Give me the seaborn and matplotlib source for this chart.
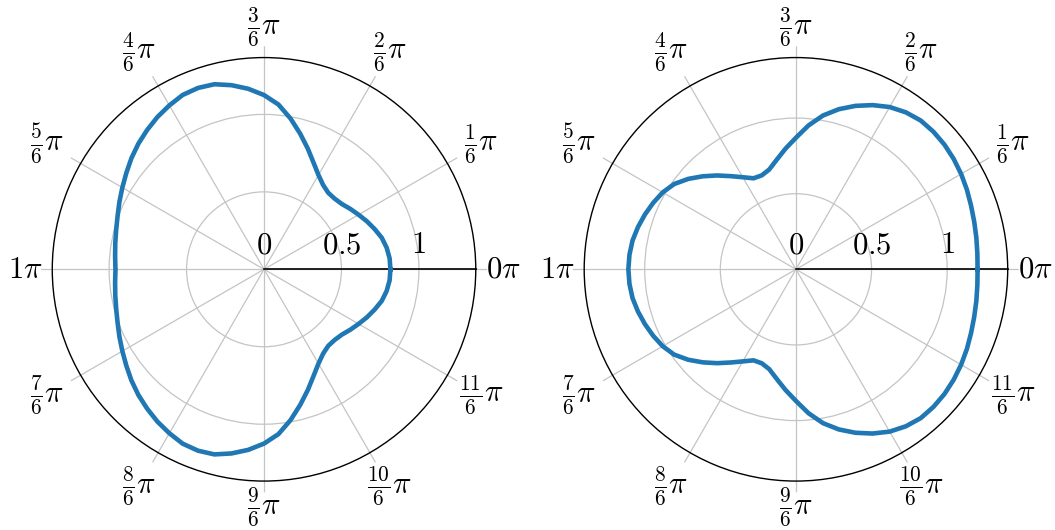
import numpy as np
import matplotlib
matplotlib.use("Agg")
import matplotlib.pyplot as plt
import matplotlib.transforms as mtransforms
import seaborn as sns

# angles in degrees, one reading every 5 degrees
angle_deg = list(range(0, 360, 5))

# radius
r_left = [0.816, 0.814, 0.804, 0.787, 0.760, 0.733, 0.705, 0.680, 0.656,
          0.645, 0.645, 0.665, 0.703, 0.758, 0.828, 0.905, 0.988, 1.068,
          1.125, 1.170, 1.207, 1.237, 1.246, 1.242, 1.222, 1.200, 1.174,
          1.147, 1.117, 1.085, 1.056, 1.030, 1.006, 0.988, 0.975, 0.965,
          0.959,
          0.965, 0.975, 0.988, 1.006, 1.030, 1.056, 1.085, 1.117, 1.147,
          1.174, 1.200, 1.222, 1.242, 1.246, 1.237, 1.207, 1.170, 1.125,
          1.068, 0.988, 0.905, 0.828, 0.758, 0.703, 0.665, 0.645, 0.645,
          0.656, 0.680, 0.705, 0.733, 0.760, 0.787, 0.804, 0.814]

# radius
r_right = [1.201, 1.204, 1.211, 1.220, 1.232, 1.247, 1.261, 1.273, 1.282,
           1.286, 1.284, 1.267, 1.239, 1.198, 1.150, 1.096, 1.033, 0.955,
           0.870, 0.800, 0.735, 0.683, 0.661, 0.664, 0.703, 0.752, 0.810,
           0.870, 0.930, 0.983, 1.017, 1.041, 1.062, 1.081, 1.097, 1.105,
           1.108,
           1.105, 1.097, 1.081, 1.062, 1.041, 1.017, 0.983, 0.930, 0.870,
           0.810, 0.752, 0.703, 0.664, 0.661, 0.683, 0.735, 0.800, 0.870,
           0.955, 1.033, 1.096, 1.150, 1.198, 1.239, 1.267, 1.284, 1.286,
           1.282, 1.273, 1.261, 1.247, 1.232, 1.220, 1.211, 1.204]

theta_ticks = list(range(12))          # k * pi/6
r_ticks = [0, 0.5, 1]
r_tick_labels = ["$0$", "$0.5$", "$1$"]

plt.rcParams["mathtext.fontset"] = "cm"
plt.rcParams["font.family"] = "serif"

fig = plt.figure(figsize=(10.55, 5.3), dpi=100)

panels = [
    (r_left, 1.367, [0.0389, 0.0711, 0.4227, 0.8415]),
    (r_right, 1.400, [0.5431, 0.0711, 0.4227, 0.8415]),
]

for r_vals, r_outer, pos in panels:
    ax = fig.add_axes(pos, projection="polar")
    theta = np.deg2rad(angle_deg + [360])
    r = np.array(r_vals + r_vals[:1])

    r_lim = r_outer * 1.053
    ax.set_ylim(0, r_lim)
    ax.spines["polar"].set_visible(False)

    ax.set_xticks(np.array(theta_ticks) * np.pi / 6)
    ax.set_xticklabels([""] * len(theta_ticks))

    ax.set_yticks([0.5, 1.0, r_outer])
    ax.set_yticklabels(["", "", ""])
    ax.grid(True, color="#c4c4c4", lw=0.9)
    ax.yaxis.get_gridlines()[2].set_color("black")
    ax.yaxis.get_gridlines()[2].set_linewidth(1.0)

    # black reference line along theta = 0
    ax.plot([0, 0], [0, r_outer], color="black", lw=1.2, zorder=3)

    sns.lineplot(x=theta, y=r, ax=ax, sort=False, estimator=None,
                 color="#1f77b4", lw=3.3, zorder=4)
    ax.set_xlabel("")
    ax.set_ylabel("")

    # angle labels just outside the spoke ends
    for k in theta_ticks:
        if k % 6 == 0:
            lab = r"$%d\pi$" % (k // 6)
            dist = 16
        elif k == 3:
            lab = r"$\frac{%d}{6}\pi$" % k
            dist = 19
        elif k == 9:
            lab = r"$\frac{%d}{6}\pi$" % k
            dist = 15
        else:
            lab = r"$\frac{%d}{6}\pi$" % k
            dist = 28
        a = k * np.pi / 6
        tr = mtransforms.offset_copy(ax.transData, fig=fig,
                                     x=dist * np.cos(a), y=dist * np.sin(a),
                                     units="dots")
        ax.text(a, r_lim, lab, transform=tr, ha="center", va="center",
                fontsize=22, clip_on=False)

    off = mtransforms.offset_copy(ax.transData, fig=fig, x=0, y=9, units="dots")
    for rv, lab in zip(r_ticks, r_tick_labels):
        ax.text(0, rv, lab, transform=off, ha="center", va="bottom",
                fontsize=22, zorder=5)

fig.savefig("out.png", dpi=100)
